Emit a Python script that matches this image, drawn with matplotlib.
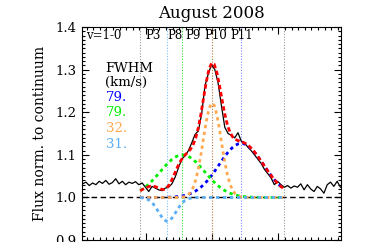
import numpy as np
import matplotlib
matplotlib.use("Agg")
import matplotlib.pyplot as plt
from matplotlib.ticker import MultipleLocator

# observed spectrum (velocity in km/s, flux normalised to continuum)
vel = list(range(-196, 195, 5))
flux = [1.032, 1.036, 1.028, 1.034, 1.030, 1.038, 1.033, 1.040, 1.031, 1.035,
        1.044, 1.032, 1.038, 1.030, 1.036, 1.033, 1.037, 1.030, 1.034, 1.024,
        1.014, 1.026, 1.022, 1.018, 1.016, 1.022, 1.024, 1.032, 1.048, 1.070,
        1.090, 1.098, 1.110, 1.128, 1.148, 1.156, 1.196, 1.262, 1.290, 1.312,
        1.300, 1.268, 1.215, 1.165, 1.150, 1.146, 1.140, 1.152, 1.132, 1.128,
        1.118, 1.110, 1.100, 1.090, 1.080, 1.066, 1.056, 1.046, 1.030, 1.038,
        1.030, 1.024, 1.028, 1.022, 1.027, 1.024, 1.032, 1.018, 1.030, 1.020,
        1.014, 1.026, 1.020, 1.010, 1.030, 1.036, 1.026, 1.038, 1.024]

# gaussian components of the fit
comp_center = [44, -45, 0, -68]
comp_fwhm = [79, 79, 32, 31]
comp_amp = [0.127, 0.100, 0.222, -0.056]
comp_colors = ['#0000ff', '#00ee00', '#ffa850', '#5aaef5']
fit_range = (-109, 108)

# line markers
line_names = ['P8', 'P9', 'P10', 'P11']
line_pos = [-68, -45, 0, 44]
line_colors = ['#7fbfff', '#33dd33', '#b07838', '#8080ff']
label_names = ['v=1-0', 'P3', 'P8', 'P9', 'P10', 'P11']
label_pos = [-164, -90, -57, -29, 5, 45]

plt.rcParams['font.family'] = 'DejaVu Serif'

fig = plt.figure(figsize=(3.66, 2.42), dpi=100)
ax = fig.add_axes([0.224, 0.008, 0.708, 0.880])

ax.axhline(1.0, color='black', ls=(0, (4, 2.5)), lw=1.0)
for x in fit_range:
    ax.axvline(x, color='#999999', ls=(0, (1, 1.5)), lw=0.8)
for x, c in zip(line_pos, line_colors):
    ax.axvline(x, color=c, ls=(0, (1, 1.5)), lw=0.8)

ax.plot(vel, flux, color='black', lw=0.9)

vmod = np.arange(fit_range[0], fit_range[1] + 1, 4)
total = np.ones_like(vmod, dtype=float)
for c0, w, a, col in zip(comp_center, comp_fwhm, comp_amp, comp_colors):
    sig = w / 2.3548
    g = a * np.exp(-0.5 * ((vmod - c0) / sig) ** 2)
    total += g
    ax.plot(vmod, 1 + g, color=col, ls=(0, (1.2, 1.3)), lw=2.0)
ax.plot(vmod, total, color='red', ls=(0, (1.6, 1.0)), lw=2.0)

for name, x in zip(label_names, label_pos):
    ax.text(x, 1.381, name, ha='center', va='center', fontsize=8.5)

ax.text(-162, 1.303, 'FWHM', ha='left', va='center', fontsize=9.5)
ax.text(-162, 1.269, '(km/s)', ha='left', va='center', fontsize=9.5)
for i, (w, col) in enumerate(zip(comp_fwhm, comp_colors)):
    ax.text(-161, 1.235 - i * 0.0365, f'{w}.', color=col, ha='left',
            va='center', fontsize=9.5)

ax.set_xlim(-197, 195)
ax.set_ylim(0.9, 1.4)
ax.xaxis.set_major_locator(MultipleLocator(100))
ax.xaxis.set_minor_locator(MultipleLocator(10))
ax.yaxis.set_major_locator(MultipleLocator(0.1))
ax.yaxis.set_minor_locator(MultipleLocator(0.01))
ax.tick_params(which='both', direction='in', top=True, right=True, width=0.8)
ax.tick_params(which='major', length=5)
ax.tick_params(which='minor', length=2.5)
ax.tick_params(axis='x', labelbottom=False)
ax.tick_params(axis='y', labelsize=9.5, pad=4)
ax.yaxis.set_major_formatter(matplotlib.ticker.FormatStrFormatter('%.1f'))
ax.set_ylabel('Flux norm. to continuum', fontsize=10, labelpad=6)

fig.text(0.577, 1 - 17.5 / 242, 'August 2008', ha='center', va='baseline',
         fontsize=12)

fig.savefig('out.png', dpi=100)
